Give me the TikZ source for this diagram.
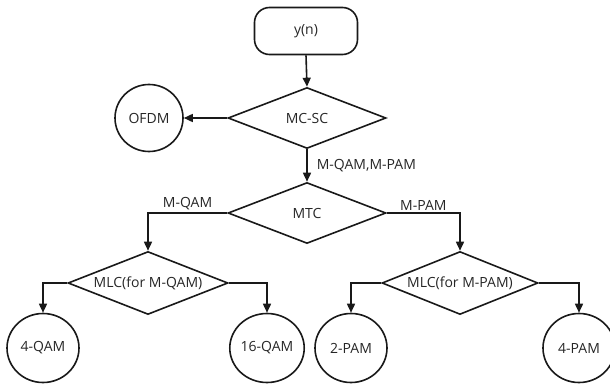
\documentclass[tikz,border=0pt]{standalone}
\usepackage{fontspec}
\setmainfont{Open Sans}
\usetikzlibrary{shapes.geometric,arrows.meta}
\begin{document}
\begin{tikzpicture}[x=1pt,y=-1pt,
  every node/.style={font=\fontsize{14}{16}\selectfont, text=black!85},
  line/.style={line width=1.6pt, draw=black!90},
  conn/.style={line, -{Triangle[length=9pt,width=8pt]}},
  dia/.style={line, diamond, inner sep=0pt, aspect=2.5},
  leaf/.style={line, ellipse, inner sep=0pt, minimum width=72pt, minimum height=69pt},
  startbox/.style={line, rectangle, rounded corners=15pt, minimum width=103pt, minimum height=47pt, inner sep=0pt},
  lbl/.style={inner sep=2pt}]
\useasboundingbox (0,0) rectangle (610,385);
\node[startbox] (yn) at (306,31) {y(n)};
\node[dia, minimum width=158pt, minimum height=61pt] (mcsc) at (307,118) {MC-SC};
\node[leaf, minimum width=68pt, minimum height=67pt] (ofdm) at (149,118) {OFDM};
\node[dia, minimum width=158pt, minimum height=61pt] (mtc) at (307,213) {MTC};
\node[dia, minimum width=160pt, minimum height=63pt] (mlcq) at (148,283) {MLC(for M-QAM)};
\node[dia, minimum width=156pt, minimum height=63pt] (mlcp) at (460,283) {MLC(for M-PAM)};
\node[leaf] (qam4) at (43,348) {4-QAM};
\node[leaf] (qam16) at (267,348) {16-QAM};
\node[leaf] (pam2) at (351,348) {2-PAM};
\node[leaf] (pam4) at (579,348) {4-PAM};

\draw[conn] (yn.south) -- (mcsc.north);
\draw[conn] (mcsc.west) -- (ofdm.east);
\draw[conn] (mcsc.south) -- node[lbl, right=7pt] {M-QAM,M-PAM} (mtc.north);
\draw[conn] (mtc.west) -| node[lbl, pos=0.25, above] {M-QAM} (mlcq.north);
\draw[conn] (mtc.east) -| node[lbl, pos=0.25, above] {M-PAM} (mlcp.north);
\draw[conn] (mlcq.west) -| (qam4.north);
\draw[conn] (mlcq.east) -| (qam16.north);
\draw[conn] (mlcp.west) -| (pam2.north);
\draw[conn] (mlcp.east) -| (pam4.north);
\end{tikzpicture}
\end{document}
